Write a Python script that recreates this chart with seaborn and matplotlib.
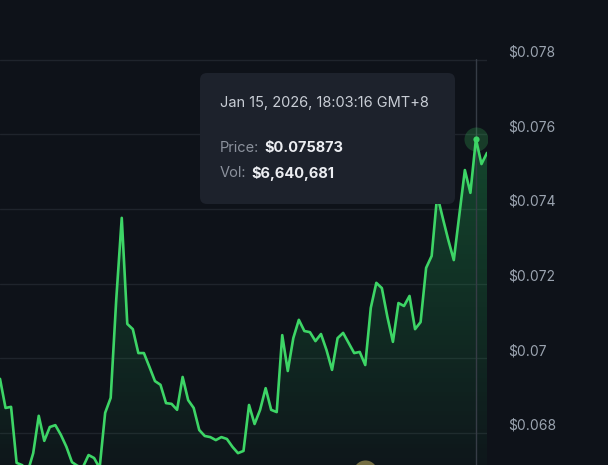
import numpy as np
import matplotlib
matplotlib.use('Agg')
import matplotlib.pyplot as plt
from matplotlib.patches import FancyBboxPatch, PathPatch
from matplotlib.colors import LinearSegmentedColormap
from matplotlib.transforms import IdentityTransform
import seaborn as sns

# Price series (USD), one value per sample
price = [0.06945, 0.06867, 0.06870, 0.06720, 0.06714, 0.06696, 0.06746, 0.06846,
         0.06779, 0.06816, 0.06821, 0.06795, 0.06763, 0.06722, 0.06712, 0.06709,
         0.06741, 0.06733, 0.06706, 0.06854, 0.06894, 0.07156, 0.07376, 0.07092,
         0.07078, 0.07014, 0.07014, 0.06977, 0.06939, 0.06929, 0.06880, 0.06878,
         0.06862, 0.06950, 0.06888, 0.06867, 0.06808, 0.06792, 0.06789, 0.06781,
         0.06789, 0.06784, 0.06763, 0.06746, 0.06752, 0.06875, 0.06824, 0.06862,
         0.06920, 0.06862, 0.06856, 0.07062, 0.06966, 0.07054, 0.07103, 0.07073,
         0.07070, 0.07046, 0.07065, 0.07022, 0.06969, 0.07054, 0.07068, 0.07041,
         0.07014, 0.07017, 0.06982, 0.07135, 0.07202, 0.07188, 0.07111, 0.07044,
         0.07148, 0.07140, 0.07167, 0.07078, 0.07097, 0.07242, 0.07274, 0.07437,
         0.07376, 0.07317, 0.07263, 0.07384, 0.07504, 0.07443, 0.075873, 0.07520,
         0.07550]
y_ticks = [0.068, 0.070, 0.072, 0.074, 0.076, 0.078]
y_labels = ['$0.068', '$0.07', '$0.072', '$0.074', '$0.076', '$0.078']

# hovered sample + tooltip text
hover_idx = 86
hover_date = 'Jan 15, 2026, 18:03:16 GMT+8'
hover_price = '$0.075873'
hover_vol = '$6,640,681'

# event marker sitting under the visible range
event_idx = 66
event_level = 0.06696

BG = '#0e1219'
GREEN = '#3dd566'

sns.set_theme(style='dark', rc={'figure.facecolor': BG, 'axes.facecolor': BG})
plt.rcParams['font.family'] = ['Inter', 'DejaVu Sans']

fig = plt.figure(figsize=(6.08, 4.65), dpi=100)
ax = fig.add_axes([0, 0, 487 / 608, 405.5 / 465])

x = np.arange(len(price))
y_bottom = 0.067143

# gradient fill under the line
poly = ax.fill_between(x, price, y_bottom, color='none')
clip = PathPatch(poly.get_paths()[0], transform=ax.transData, facecolor='none', edgecolor='none')
ax.add_patch(clip)
cmap = LinearSegmentedColormap.from_list('fade', [(0.13, 0.77, 0.37, 0.03), (0.13, 0.77, 0.37, 0.30)])
grad = np.linspace(0, 1, 256).reshape(-1, 1)
im = ax.imshow(grad, extent=[x[0], x[-1], y_bottom, max(price)], origin='lower',
               aspect='auto', cmap=cmap, zorder=1)
im.set_clip_path(clip)

sns.lineplot(x=x, y=price, ax=ax, color=GREEN, linewidth=1.9, zorder=3)

# crosshair + hovered point
ax.axvline(hover_idx, color='#363c46', linewidth=1, zorder=2)
ax.scatter([hover_idx], [price[hover_idx]], s=300, color=GREEN, alpha=0.22, linewidths=0, zorder=4)
ax.scatter([hover_idx], [price[hover_idx]], s=20, color=GREEN, linewidths=0, zorder=5)

# event marker, mostly below the frame
ax.scatter([event_idx], [event_level], s=300, color='#d9c46a', alpha=0.5, linewidths=0,
           zorder=4, clip_on=False)

ax.set_xlim(x[0], x[-1])
ax.set_ylim(y_bottom, 0.078)
ax.set_xticks([])
ax.yaxis.tick_right()
ax.set_yticks(y_ticks)
ax.set_yticklabels(y_labels)
ax.tick_params(axis='y', length=0, pad=15, labelcolor='#9aa3af', labelsize=10)
for lab in ax.get_yticklabels():
    lab.set_va('bottom')
ax.grid(axis='y', color='#1f242c', linewidth=1)
ax.grid(axis='x', visible=False)
for s in ax.spines.values():
    s.set_visible(False)
ax.set_xlabel('')
ax.set_ylabel('')

# tooltip (drawn inside the axes so it stacks above the line)
box = FancyBboxPatch((200, 465 - 204), 255, 131, boxstyle='round,pad=0,rounding_size=7',
                     transform=IdentityTransform(), facecolor='#1d222c', edgecolor='none',
                     zorder=10, clip_on=False)
ax.add_patch(box)
ft = fig.transFigure
ax.text(220 / 608, 1 - 103 / 465, hover_date, transform=ft, color='#c9ced6', fontsize=10.5,
        va='center', zorder=11)
t_price = ax.text(220 / 608, 1 - 148 / 465, 'Price:', transform=ft, color='#8b919c',
                  fontsize=10.5, va='center', zorder=11)
ax.annotate(hover_price, xy=(1, 0.5), xycoords=t_price, xytext=(3.5, 0), textcoords='offset points',
            va='center', color='#eceef2', fontsize=10.5, fontweight='bold', zorder=11,
            annotation_clip=False)
t_vol = ax.text(220 / 608, 1 - 173 / 465, 'Vol:', transform=ft, color='#8b919c',
                fontsize=10.5, va='center', zorder=11)
ax.annotate(hover_vol, xy=(1, 0.5), xycoords=t_vol, xytext=(3.5, 0), textcoords='offset points',
            va='center', color='#eceef2', fontsize=10.5, fontweight='bold', zorder=11,
            annotation_clip=False)

fig.savefig('out.png', dpi=100, facecolor=BG)
